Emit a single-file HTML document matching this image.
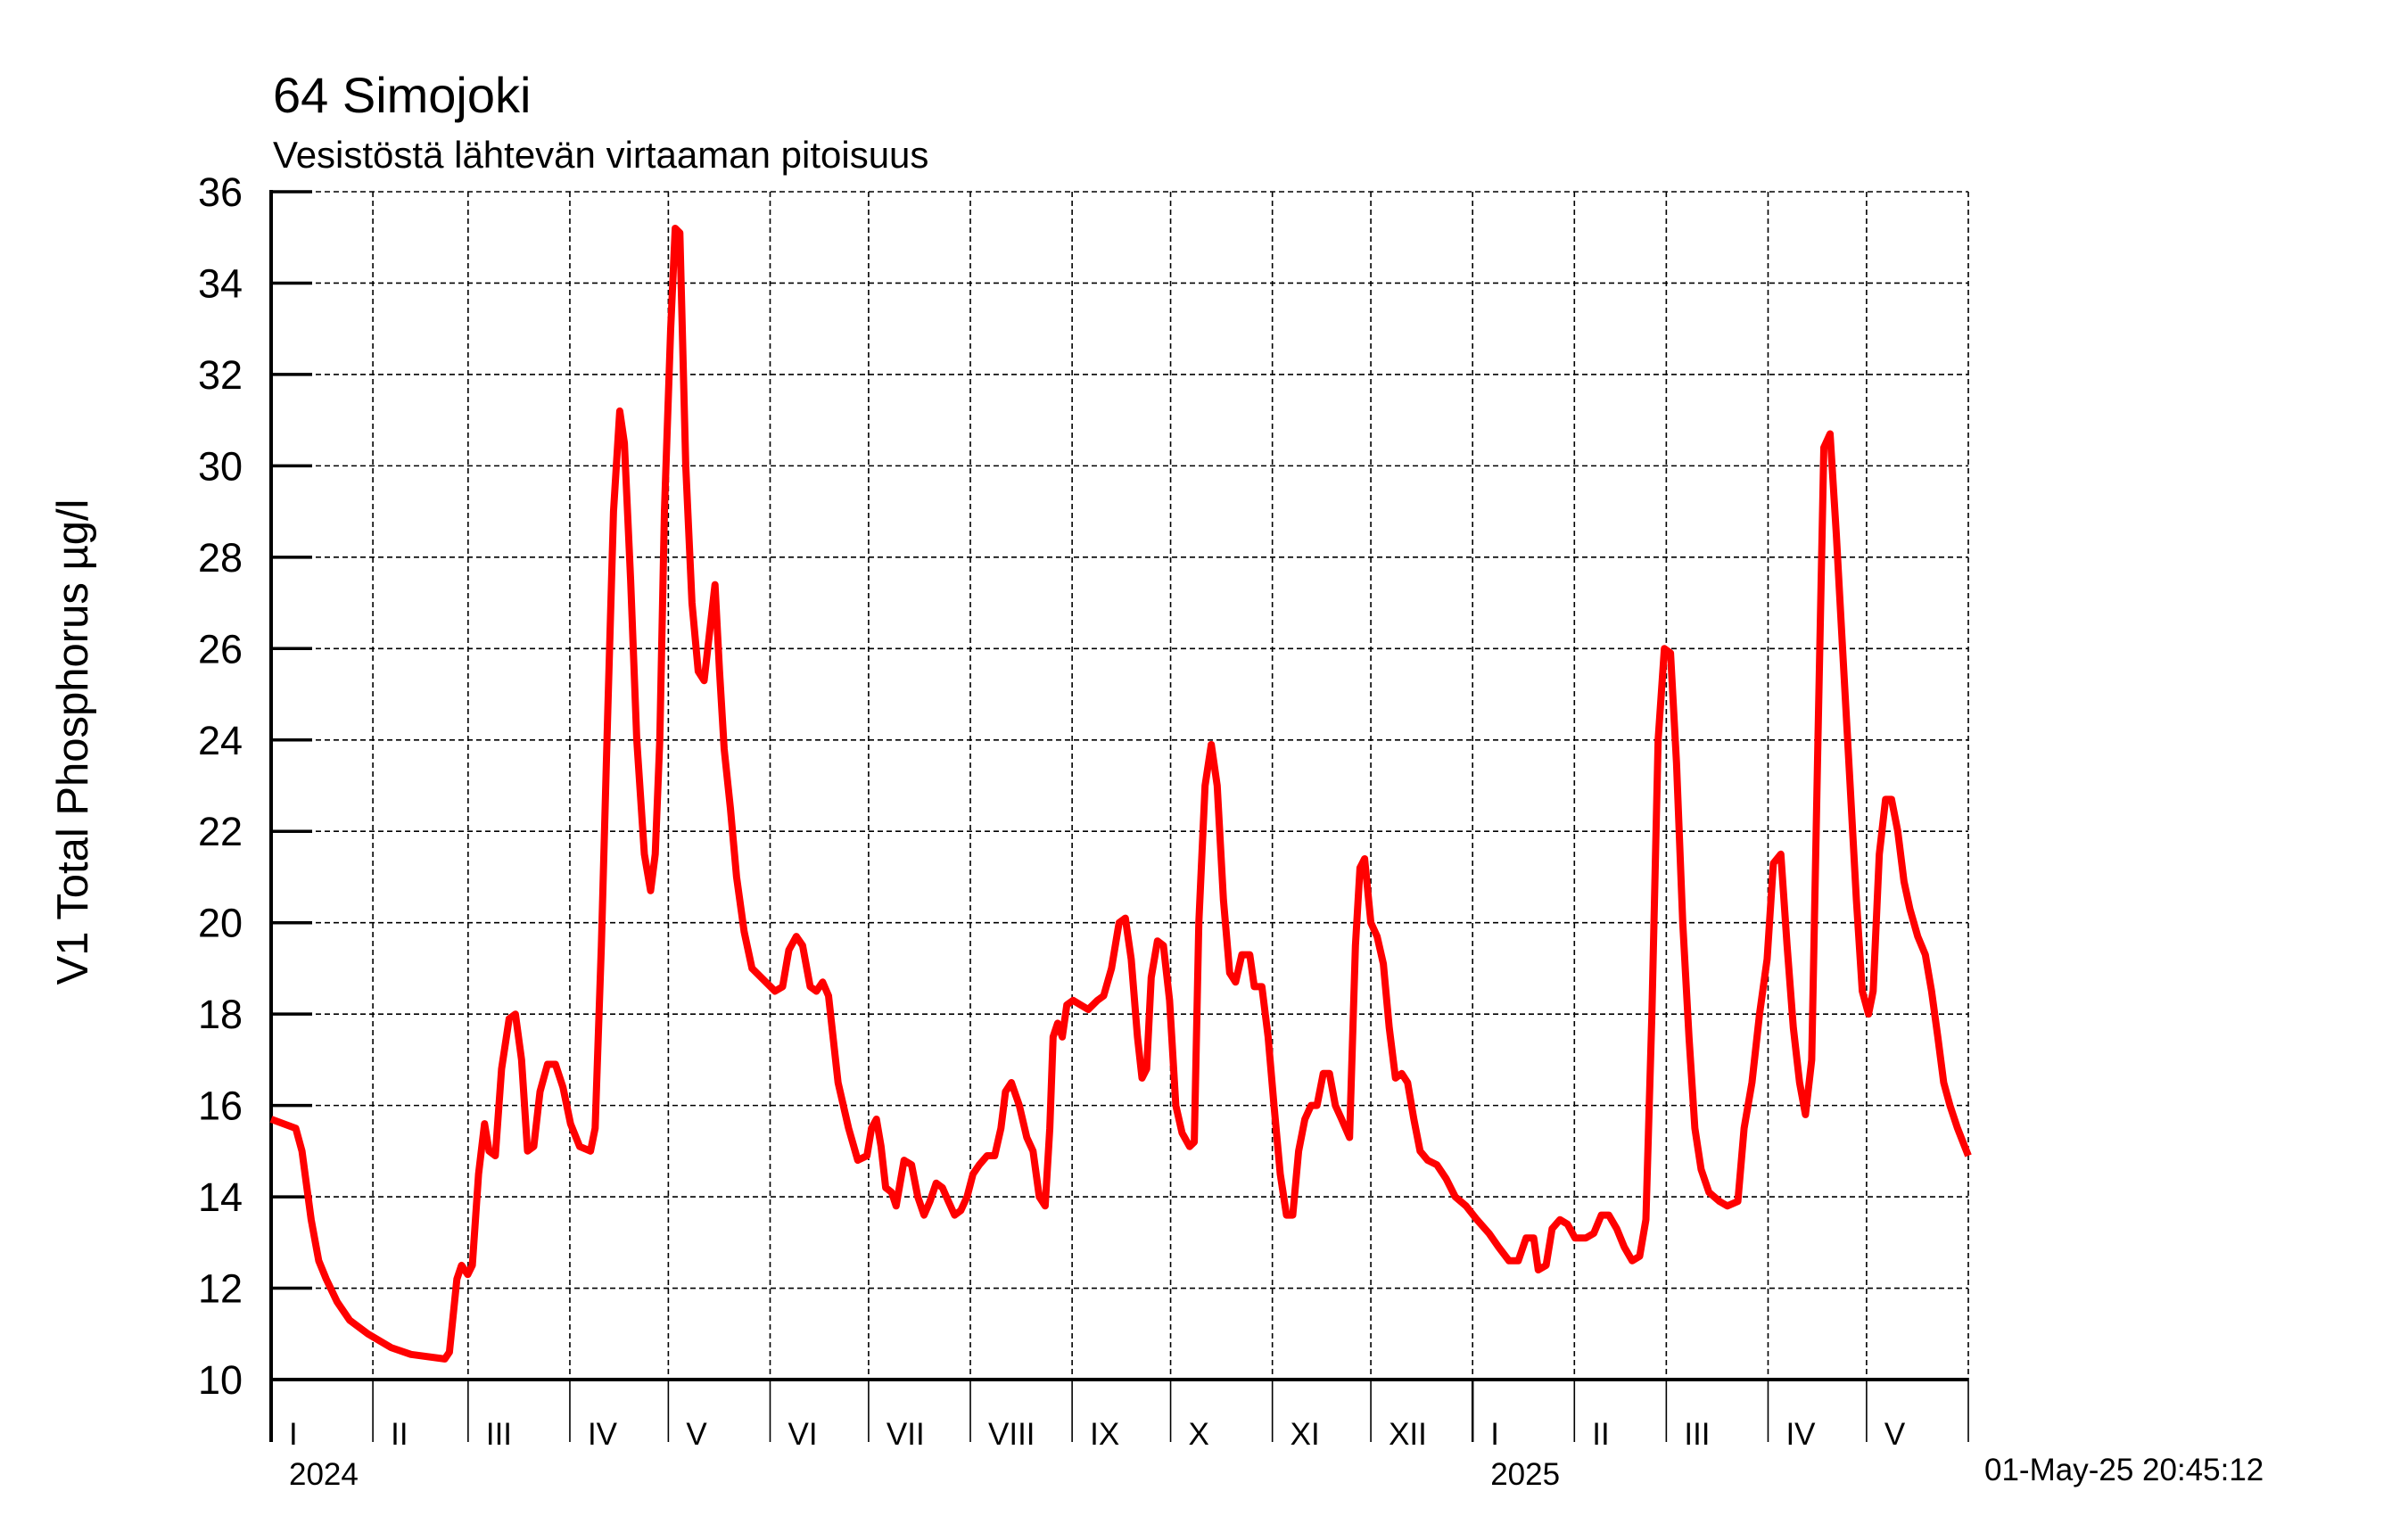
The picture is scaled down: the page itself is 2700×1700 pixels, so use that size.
<!DOCTYPE html>
<html><head><meta charset="utf-8"><style>
html,body{margin:0;padding:0;background:#fff;}
svg{display:block;font-family:"Liberation Sans",Arial,sans-serif;}
</style></head><body>
<svg id="chart" width="2700" height="1700" viewBox="0 0 2700 1700" xmlns="http://www.w3.org/2000/svg">
<text x="306" y="126" font-size="56">64 Simojoki</text>
<text x="306" y="188" font-size="42">Vesistöstä lähtevän virtaaman pitoisuus</text>
<text transform="translate(98,832) rotate(-90)" text-anchor="middle" font-size="49">V1 Total Phosphorus µg/l</text>
<text x="2225" y="1660" font-size="35">01-May-25 20:45:12</text>
<g id="grid"></g><g id="axes"></g><g id="series"></g>
</svg>
<script>
// days since 2024-01-01
const days = [0,7.5,9.4,12.2,14.5,16.8,20.1,23.9,29.5,36.5,42.6,52.9,54.3,56.6,58.0,59.9,61.3,63.2,65.0,66.4,68.3,70.2,72.5,74.4,76.3,78.1,80.0,81.9,84.2,86.6,88.9,91.2,94.0,97.3,98.7,100.6,102.5,104.3,106.2,107.6,109.5,111.4,113.7,115.6,117.0,118.4,119.8,121.7,123.1,124.5,126.3,128.2,130.1,131.9,133.8,135.2,136.6,138.0,139.9,141.8,144.1,146.5,153.5,155.8,157.7,160.0,161.9,164.2,166.1,168.0,169.8,172.7,175.9,178.7,181.5,182.9,184.4,185.8,187.2,189.0,190.4,192.8,195.1,197.0,198.9,200.7,202.6,204.5,206.3,208.2,210.1,212.0,213.8,215.7,218.1,220.4,222.3,223.7,225.5,227.9,230.2,232.1,234.0,235.8,237.2,238.2,239.6,241.0,242.4,244.3,246.6,248.9,251.7,253.6,256.0,258.3,260.2,262.0,263.9,265.3,266.7,268.1,270.0,271.8,273.7,275.6,277.5,279.8,281.2,282.6,284.5,286.4,288.2,290.1,292.0,293.8,295.7,298.1,299.5,301.8,303.7,305.5,307.4,309.3,311.2,313.0,314.9,316.8,318.6,320.5,322.4,324.2,326.1,328.5,330.3,331.7,333.1,335.0,336.9,338.8,340.6,342.5,344.4,346.2,348.1,350.0,352.3,355.1,357.9,360.7,364.0,367.3,371.0,373.9,377.1,379.9,382.3,384.6,386.0,388.4,390.2,392.6,394.9,397.2,400.5,402.9,405.2,407.5,409.9,412.2,414.6,416.9,418.8,420.6,422.5,424.4,426.3,428.1,430.0,431.9,433.7,435.6,438.0,441.2,443.6,446.8,448.7,451.1,453.4,455.7,457.6,459.9,461.8,463.7,465.6,467.4,469.3,471.2,473.0,474.9,476.8,478.7,481.0,482.9,484.7,486.6,488.0,489.9,491.8,493.6,495.5,497.4,499.2,501.6,503.9,505.8,507.7,509.5,511.4,513.7,517.0];
const values = [15.7,15.5,15.0,13.5,12.6,12.2,11.7,11.3,11.0,10.7,10.55,10.45,10.6,12.2,12.5,12.3,12.5,14.5,15.6,15.0,14.9,16.8,17.9,18.0,17.0,15.0,15.1,16.3,16.9,16.9,16.4,15.6,15.1,15.0,15.5,19.5,24.5,29,31.2,30.5,27.5,24,21.5,20.7,21.5,24,29,33,35.2,35.1,30,27,25.5,25.3,26.5,27.4,25.5,23.8,22.5,21,19.8,19,18.5,18.6,19.4,19.7,19.5,18.6,18.5,18.7,18.4,16.5,15.5,14.8,14.9,15.5,15.7,15.1,14.2,14.1,13.8,14.8,14.7,14.0,13.6,13.9,14.3,14.2,13.9,13.6,13.7,14.0,14.5,14.7,14.9,14.9,15.5,16.3,16.5,16.0,15.3,15.0,14.0,13.8,15.5,17.5,17.8,17.5,18.2,18.3,18.2,18.1,18.3,18.4,19,20.0,20.1,19.2,17.5,16.6,16.8,18.8,19.6,19.5,18.3,16.0,15.4,15.1,15.2,20,23,23.9,23.0,20.5,18.9,18.7,19.3,19.3,18.6,18.6,17.5,16.0,14.5,13.6,13.6,15.0,15.7,16.0,16.0,16.7,16.7,16.0,15.7,15.3,19.5,21.2,21.4,20.0,19.7,19.1,17.7,16.6,16.7,16.5,15.7,15.0,14.8,14.7,14.4,14.0,13.8,13.5,13.2,12.9,12.6,12.6,13.1,13.1,12.4,12.5,13.3,13.5,13.4,13.1,13.1,13.2,13.6,13.6,13.3,12.9,12.6,12.7,13.5,18,24,26.0,25.9,23.5,20,17.5,15.5,14.6,14.1,13.9,13.8,13.9,15.5,16.5,18.0,19.2,21.3,21.5,19.5,17.7,16.5,15.8,17,24,30.4,30.7,28.5,26,23,20.5,18.5,18.0,18.5,21.5,22.7,22.7,22.0,20.9,20.3,19.7,19.3,18.5,17.5,16.5,16.0,15.5,14.9];
const yTicks = [10,12,14,16,18,20,22,24,26,28,30,32,34,36];
const monthLabels = ["I","II","III","IV","V","VI","VII","VIII","IX","X","XI","XII","I","II","III","IV","V"];
const yearLabels = ["2024","2025"];

const NS="http://www.w3.org/2000/svg";
const X0=304, X1=2207, Y0=1547, Y1=215, TOTAL=517, VMIN=10, VMAX=36;
const xs=d=>X0+d*(X1-X0)/TOTAL;
const ys=v=>Y0-(v-VMIN)*(Y0-Y1)/(VMAX-VMIN);
function mk(tag,attrs,parent){const e=document.createElementNS(NS,tag);for(const k in attrs)e.setAttribute(k,attrs[k]);parent.appendChild(e);return e;}
const grid=document.getElementById('grid'), axes=document.getElementById('axes'), series=document.getElementById('series');
// month boundaries
const start=Date.UTC(2024,0,1);
for(let i=0;i<monthLabels.length;i++){
  const d=(Date.UTC(2024,i,1)-start)/86400000;
  const x=xs(d);
  if(i>0){
    const g=mk('line',{x1:x,x2:x,y1:Y1,y2:Y0,stroke:'#000','stroke-width':1.6,'stroke-dasharray':'6 4'},grid);
    
    
  }
  const t=mk('line',{x1:x,x2:x,y1:Y0,y2:1617,stroke:'#000','stroke-width':(i%12===0)?2.5:1.6},axes);
  
  
  const lb=mk('text',{x:x+20,y:1620,'font-size':35},axes);
  lb.textContent=monthLabels[i];
  
  
  if(i%12===0){
    const yl=mk('text',{x:x+20,y:1665,'font-size':35},axes);
    yl.textContent=yearLabels[i/12];
    
    
  }
}
// end line
const ed=mk('line',{x1:X1,x2:X1,y1:Y1,y2:Y0,stroke:'#000','stroke-width':1.6,'stroke-dasharray':'6 4'},grid);


const et=mk('line',{x1:X1,x2:X1,y1:Y0,y2:1617,stroke:'#000','stroke-width':1.6},axes);


// y ticks
yTicks.forEach(v=>{
  const y=ys(v);
  if(v>VMIN){
    const g=mk('line',{x1:X0,x2:X1,y1:y,y2:y,stroke:'#000','stroke-width':1.6,'stroke-dasharray':'6 4'},grid);
    
    
  }
  const t=mk('line',{x1:X0,x2:X0+46,y1:y,y2:y,stroke:'#000','stroke-width':3.5},axes);
  
  
  const lb=mk('text',{x:272,y:y+16,'font-size':45,'text-anchor':'end'},axes);
  lb.textContent=v;
  
  
});
const ya=mk('line',{x1:X0,x2:X0,y1:Y1-2,y2:1617,stroke:'#000','stroke-width':4},axes);


const xa=mk('line',{x1:X0,x2:X1,y1:Y0,y2:Y0,stroke:'#000','stroke-width':4},axes);


// series
const pts=days.map((d,i)=>xs(d).toFixed(1)+','+ys(values[i]).toFixed(1)).join(' ');
const pl=mk('polyline',{points:pts,fill:'none',stroke:'#ff0000','stroke-width':8,'stroke-linejoin':'round','stroke-linecap':'butt'},series);


</script>
</body></html>
